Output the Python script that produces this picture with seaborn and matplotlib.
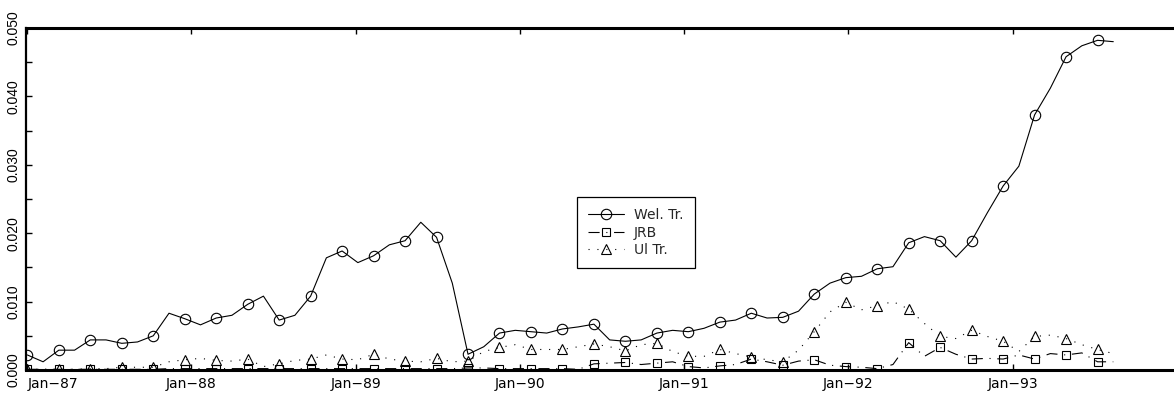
import matplotlib

matplotlib.use("Agg")

import matplotlib.pyplot as plt
import numpy as np
import pandas as pd
import seaborn as sns
from matplotlib.legend_handler import HandlerLine2D
from matplotlib.lines import Line2D
from matplotlib.ticker import MultipleLocator, FormatStrFormatter


# series sampled every 5 weeks from Jan-87, marker on every second point
wel_tr = [
    0.0022, 0.0012, 0.0029, 0.0029, 0.0044, 0.0044, 0.0039, 0.0041, 0.0050, 0.0083,
    0.0075, 0.0066, 0.0076, 0.0080, 0.0096, 0.0108, 0.0073, 0.0080, 0.0108, 0.0164,
    0.0174, 0.0157, 0.0167, 0.0183, 0.0189, 0.0216, 0.0194, 0.0127, 0.0023, 0.0034,
    0.0054, 0.0058, 0.0056, 0.0054, 0.0060, 0.0063, 0.0067, 0.0044, 0.0042, 0.0044,
    0.0054, 0.0058, 0.0056, 0.0061, 0.0070, 0.0073, 0.0083, 0.0076, 0.0077, 0.0086,
    0.0111, 0.0127, 0.0135, 0.0137, 0.0148, 0.0151, 0.0186, 0.0195, 0.0189, 0.0165,
    0.0189, 0.0230, 0.0269, 0.0298, 0.0373, 0.0412, 0.0458, 0.0474, 0.0482, 0.0480,
]

jrb = [
    0.0001, 0.0001, 0.0001, 0.0001, 0.0001, 0.0001, 0.0001, 0.0001, 0.0001, 0.0002,
    0.0002, 0.0002, 0.0002, 0.0002, 0.0002, 0.0002, 0.0002, 0.0002, 0.0002, 0.0002,
    0.0002, 0.0002, 0.0002, 0.0002, 0.0002, 0.0002, 0.0002, 0.0002, 0.0003, 0.0003,
    0.0002, 0.0002, 0.0002, 0.0002, 0.0002, 0.0001, 0.0009, 0.0010, 0.0011, 0.0008,
    0.0010, 0.0012, 0.0005, 0.0003, 0.0006, 0.0008, 0.0016, 0.0012, 0.0007, 0.0013,
    0.0015, 0.0007, 0.0005, 0.0004, 0.0002, 0.0008, 0.0040, 0.0020, 0.0033, 0.0023,
    0.0016, 0.0017, 0.0016, 0.0022, 0.0016, 0.0024, 0.0022, 0.0025, 0.0012, 0.0012,
]

ui_tr = [
    0.0001, 0.0001, 0.0001, 0.0001, 0.0002, 0.0002, 0.0004, 0.0004, 0.0004, 0.0012,
    0.0015, 0.0017, 0.0014, 0.0013, 0.0016, 0.0005, 0.0009, 0.0014, 0.0016, 0.0022,
    0.0016, 0.0015, 0.0023, 0.0016, 0.0013, 0.0012, 0.0017, 0.0012, 0.0013, 0.0027,
    0.0033, 0.0037, 0.0030, 0.0030, 0.0030, 0.0034, 0.0038, 0.0034, 0.0028, 0.0037,
    0.0039, 0.0027, 0.0020, 0.0020, 0.0030, 0.0024, 0.0019, 0.0015, 0.0012, 0.0029,
    0.0056, 0.0085, 0.0099, 0.0088, 0.0094, 0.0100, 0.0089, 0.0068, 0.0049, 0.0046,
    0.0058, 0.0049, 0.0042, 0.0027, 0.0049, 0.0051, 0.0046, 0.0037, 0.0030, 0.0024,
]

tick_years = ["1987", "1988", "1989", "1990", "1991", "1992", "1993"]
tick_labels = ["Jan\u221287", "Jan\u221288", "Jan\u221289", "Jan\u221290",
               "Jan\u221291", "Jan\u221292", "Jan\u221293"]


class LeftMarkerHandler(HandlerLine2D):
    # marker at the left end of the legend line, as in the original
    def get_xdata(self, legend, xdescent, ydescent, width, height, fontsize):
        xdata = np.array([-xdescent, -xdescent + width])
        xdata_marker = np.array([-xdescent])
        return xdata, xdata_marker


def main():
    sns.set_theme(style="white")
    plt.rcParams["font.family"] = ["DejaVu Sans"]

    dates = pd.date_range("1987-01-01", periods=len(wel_tr), freq="35D")
    df = pd.DataFrame({"date": dates, "wel": wel_tr, "jrb": jrb, "ui": ui_tr})

    fig = plt.figure(figsize=(11.74, 3.93), dpi=100)
    ax = fig.add_axes([26 / 1174, 1 - 370 / 393, 1 - 26 / 1174, (370 - 28) / 393])

    styles = {
        "wel": dict(marker="o", markersize=7.5, linestyle="-", label="Wel. Tr."),
        "jrb": dict(marker="s", markersize=5.5, linestyle=(0, (10, 6, 1, 6)), label="JRB"),
        "ui": dict(marker="^", markersize=7, linestyle=(0, (1, 7)), label="Ul Tr."),
    }

    for col, st in styles.items():
        sns.lineplot(
            data=df,
            x="date",
            y=col,
            ax=ax,
            color="black",
            linewidth=0.8,
            markevery=(0, 2),
            markerfacecolor="none",
            markeredgecolor="black",
            markeredgewidth=0.8,
            estimator=None,
            legend=False,
            **st,
        )

    ax.set_xlim(pd.Timestamp("1986-12-29"), pd.Timestamp("1993-12-25"))
    ax.set_ylim(0, 0.05)

    ax.set_xticks([pd.Timestamp(f"{y}-01-01") for y in tick_years])
    ax.set_xticklabels(tick_labels, fontsize=10)
    ax.get_xticklabels()[0].set_horizontalalignment("left")

    ax.yaxis.set_major_locator(MultipleLocator(0.01))
    ax.yaxis.set_minor_locator(MultipleLocator(0.005))
    ax.yaxis.set_major_formatter(FormatStrFormatter("%.3f"))
    for lbl in ax.get_yticklabels():
        lbl.set_rotation(90)
        lbl.set_verticalalignment("center")
        lbl.set_family(["Liberation Sans", "DejaVu Sans"])
        lbl.set_fontsize(10)

    ax.tick_params(axis="x", which="major", direction="in", length=4, width=1,
                   top=True, bottom=True, pad=5, colors="black")
    ax.tick_params(axis="y", which="both", direction="in", length=4, width=1,
                   left=True, pad=4, colors="black")

    ax.set_xlabel("")
    ax.set_ylabel("")

    for side in ["top", "bottom"]:
        ax.spines[side].set_linewidth(2.2)
        ax.spines[side].set_color("black")
    ax.spines["left"].set_linewidth(1.6)
    ax.spines["left"].set_color("black")
    ax.spines["right"].set_visible(False)

    handles = [
        Line2D([], [], color="black", linewidth=0.8, markerfacecolor="none",
               markeredgecolor="black", markeredgewidth=0.8, **st)
        for st in styles.values()
    ]
    leg = ax.legend(
        handles=handles,
        loc="upper left",
        bbox_to_anchor=(577 / 1174, 1 - 197 / 393),
        bbox_transform=fig.transFigure,
        borderaxespad=0,
        fontsize=10,
        handlelength=2.6,
        handletextpad=0.7,
        labelspacing=0.25,
        borderpad=0.8,
        fancybox=False,
        framealpha=1,
        edgecolor="black",
        handler_map={Line2D: LeftMarkerHandler()},
    )
    leg.get_frame().set_linewidth(0.9)

    fig.savefig("out.png", dpi=100)
    plt.close(fig)


if __name__ == "__main__":
    main()
